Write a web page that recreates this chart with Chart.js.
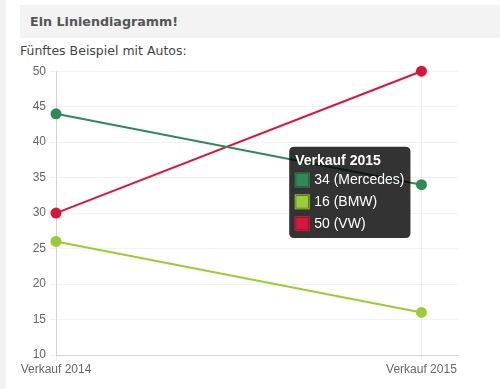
<!DOCTYPE html>
<html>
<head>
<meta charset="utf-8">
<script src="https://cdn.jsdelivr.net/npm/chart.js@4/dist/chart.umd.min.js"></script>
<style>
  html, body { margin: 0; padding: 0; background: #fff; width: 500px; height: 389px; overflow: hidden; }
  #strip { position: absolute; left: 0; top: 0; width: 6px; height: 389px; background: #f2f2f2; }
  #head { position: absolute; left: 20px; top: 5px; width: 480px; height: 33px; background: #f3f3f3;
          font-family: "DejaVu Sans", Verdana, sans-serif; font-weight: bold; font-size: 12.7px; color: #555;
          line-height: 33px; box-sizing: border-box; padding-left: 10px; }
  #sub { position: absolute; left: 20px; top: 43px; font-family: "DejaVu Sans", Verdana, sans-serif;
         font-size: 12.5px; color: #444; }
  #wrap { position: absolute; left: 0; top: 60px; width: 480px; height: 329px; }
</style>
</head>
<body>
<div id="strip"></div>
<div id="head">Ein Liniendiagramm!</div>
<div id="sub">Fünftes Beispiel mit Autos:</div>
<div id="wrap"><canvas id="c" width="480" height="329"></canvas></div>
<script>
const categories = ['Verkauf 2014', 'Verkauf 2015'];
const seriesNames = ['Mercedes', 'BMW', 'VW'];
const mercedes = [44, 34];
const bmw = [26, 16];
const vw = [30, 50];
const colors = ['#2e8b57', '#9acd32', '#dc143c'];
const yMin = 10, yMax = 50, yStep = 5;

const seriesValues = [mercedes, bmw, vw];
const datasets = seriesValues.map((vals, i) => ({
  label: seriesNames[i],
  data: vals.map((v, j) => ({ x: j, y: v })),
  borderColor: colors[i],
  backgroundColor: colors[i],
  pointBackgroundColor: colors[i],
  pointBorderColor: colors[i],
  pointRadius: 4.5,
  pointHoverRadius: 4.5,
  borderWidth: 2,
  tension: 0,
  fill: false,
  clip: false
}));

Chart.Tooltip.positioners.shifted = function (elements) {
  if (!elements.length) return false;
  let x = 0, y = 0;
  elements.forEach(e => { x += e.element.x; y += e.element.y; });
  return { x: x / elements.length, y: y / elements.length + 3 };
};

const chart = new Chart(document.getElementById('c'), {
  type: 'line',
  data: { datasets },
  options: {
    responsive: false,
    animation: false,
    layout: { padding: { top: 10, right: 22, left: 0, bottom: 0 } },
    plugins: {
      legend: { display: false },
      tooltip: {
        mode: 'index',
        intersect: false,
        position: 'shifted',
        backgroundColor: 'rgba(0,0,0,0.8)',
        titleFont: { family: 'Arial, "Liberation Sans", sans-serif', size: 14, weight: 'bold' },
        bodyFont: { family: 'Arial, "Liberation Sans", sans-serif', size: 14 },
        titleColor: '#fff',
        bodyColor: '#fff',
        titleMarginBottom: 2,
        bodySpacing: 5,
        padding: 6,
        caretSize: 0,
        caretPadding: 11,
        cornerRadius: 5,
        xAlign: 'right',
        yAlign: 'center',
        boxPadding: 3,
        multiKeyBackground: 'rgba(0,0,0,0)',
        callbacks: {
          title: items => categories[items[0].parsed.x],
          label: item => item.parsed.y + ' (' + item.dataset.label + ')',
          labelColor: item => ({ borderColor: colors[item.datasetIndex], backgroundColor: colors[item.datasetIndex] })
        }
      }
    },
    scales: {
      x: {
        type: 'linear',
        min: 0,
        max: 1.1,
        afterBuildTicks: s => { s.ticks = categories.map((c, i) => ({ value: i })); },
        afterFit: s => { s.height = 34; },
        ticks: {
          callback: v => categories[v],
          color: '#666',
          font: { family: 'Arial, "Liberation Sans", sans-serif', size: 12 },
          padding: 2,
          maxRotation: 0,
          autoSkip: false
        },
        grid: { color: 'rgba(0,0,0,0.06)', tickLength: 5 },
        border: { color: 'rgba(0,0,0,0.12)' }
      },
      y: {
        min: yMin,
        max: yMax,
        afterFit: s => { s.width = 56; },
        ticks: {
          stepSize: yStep,
          color: '#666',
          font: { family: 'Arial, "Liberation Sans", sans-serif', size: 12 },
          padding: 4
        },
        grid: { color: 'rgba(0,0,0,0.05)', tickLength: 6 },
        border: { color: 'rgba(0,0,0,0.12)' }
      }
    }
  }
});

const idx = 1;
const active = seriesValues.map((_, i) => ({ datasetIndex: i, index: idx }));
const pts = active.map(a => chart.getDatasetMeta(a.datasetIndex).data[idx]);
chart.tooltip.setActiveElements(active, { x: pts[0].x, y: pts[0].y });
chart.update();
</script>
</body>
</html>
